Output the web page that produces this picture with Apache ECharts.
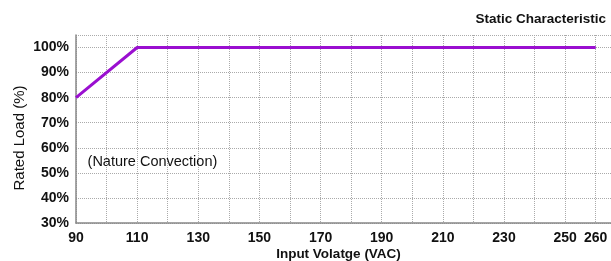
<!DOCTYPE html>
<html>
<head>
<meta charset="utf-8">
<script src="https://cdn.jsdelivr.net/npm/echarts@6/dist/echarts.min.js"></script>
<style>
  html, body { margin: 0; padding: 0; background: #fff; }
  #chart { width: 611px; height: 261px; }
</style>
</head>
<body>
<div id="chart"></div>
<script>
// 输入电压 / 额定负载
const voltage = [90, 110, 260]
const ratedLoad = [80, 100, 100]
const xLabels = [90, 110, 130, 150, 170, 190, 210, 230, 250, 260]
const yLabels = [30, 40, 50, 60, 70, 80, 90, 100]

const chart = echarts.init(document.getElementById('chart'))
const font = 'Liberation Sans, Arial, sans-serif'

const option = {
  animation: false,
  title: {
    text: 'Static Characteristic',
    right: 0,
    top: 7,
    textStyle: { fontFamily: font, fontSize: 13.5, fontWeight: 'bold', color: '#111' }
  },
  grid: {
    left: 76,
    top: 35,
    right: 0,
    bottom: 38,
    outerBoundsMode: 'none'
  },
  xAxis: {
    type: 'value',
    min: 90,
    max: 265,
    interval: 10,
    name: 'Input Volatge (VAC)',
    nameLocation: 'middle',
    nameGap: 24,
    nameMoveOverlap: false,
    nameTextStyle: { fontFamily: font, fontSize: 13.5, fontWeight: 'bold', color: '#111', padding: [0, 10, 0, 0] },
    axisLine: { lineStyle: { color: '#888', width: 1.5 } },
    axisTick: { show: false },
    axisLabel: {
      fontFamily: font,
      fontSize: 14,
      fontWeight: 'bold',
      color: '#111',
      margin: 8,
      showMaxLabel: false,
      formatter: v => (xLabels.indexOf(v) > -1 ? String(v) : '')
    },
    splitLine: {
      show: true,
      showMaxLine: false,
      lineStyle: { type: 'dotted', color: '#aaa' }
    }
  },
  yAxis: {
    type: 'value',
    min: 30,
    max: 105,
    interval: 10,
    name: 'Rated Load (%)',
    nameLocation: 'middle',
    nameGap: 49,
    nameMoveOverlap: false,
    nameTextStyle: { fontFamily: font, fontSize: 15, color: '#111', padding: [0, 18, 0, 0] },
    axisLine: { show: true, lineStyle: { color: '#888', width: 1.5 } },
    axisTick: { show: false },
    axisLabel: {
      fontFamily: font,
      fontSize: 14,
      fontWeight: 'bold',
      color: '#111',
      margin: 7,
      formatter: v => (yLabels.indexOf(v) > -1 ? v + '%' : '')
    },
    splitLine: {
      show: true,
      lineStyle: { type: 'dotted', color: '#aaa' }
    }
  },
  series: [
    {
      type: 'line',
      data: voltage.map((v, i) => [v, ratedLoad[i]]),
      symbol: 'none',
      lineStyle: { color: '#9a0fd0', width: 3 },
      markPoint: {
        silent: true,
        symbol: 'rect',
        symbolSize: 0,
        data: [
          {
            coord: [115, 54.2],
            label: {
              show: true,
              formatter: '(Nature Convection)',
              fontFamily: font,
              fontSize: 14.5,
              color: '#111'
            }
          }
        ]
      }
    }
  ]
}
chart.setOption(option)
</script>
</body>
</html>
